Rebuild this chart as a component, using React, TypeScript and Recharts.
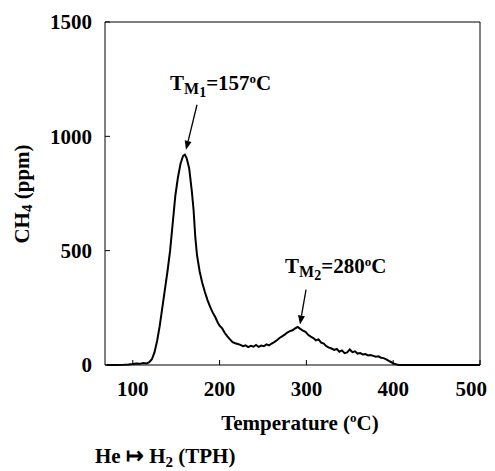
import { LineChart, Line, XAxis, YAxis, ReferenceLine } from 'recharts';

// temperature (°C) and CH4 (ppm)
const temps = [
  70, 80, 90, 95, 100, 104, 108, 112, 116, 119, 122, 125, 128, 131, 134, 137, 140, 143, 146, 149,
  152, 155, 158, 160, 162, 165, 168, 170, 172, 174, 177, 180, 183, 186, 189, 192, 195, 198, 200, 203,
  206, 209, 212, 215, 218, 221, 224, 227, 230, 233, 236, 239, 242, 245, 248, 251, 254, 257, 260, 263,
  266, 269, 272, 275, 278, 281, 284, 287, 290, 293, 296, 299, 302, 305, 308, 311, 314, 317, 320, 323,
  326, 329, 332, 335, 338, 341, 344, 347, 350, 353, 356, 359, 362, 365, 368, 371, 374, 377, 380, 383,
  386, 389, 392, 395, 398, 401, 404, 407, 420, 500,
];
const ch4 = [
  0, 0, 1, 2, 4, 6, 5, 9, 7, 12, 25, 55, 105, 170, 250, 330, 410, 500, 620, 740,
  820, 880, 915, 920, 905, 860, 760, 680, 560, 480, 410, 360, 320, 285, 255, 230, 210, 185, 172, 160,
  140, 125, 112, 100, 95, 92, 88, 82, 86, 78, 84, 80, 88, 79, 85, 82, 90, 86, 94, 100,
  108, 118, 125, 133, 142, 148, 152, 160, 166, 158, 150, 145, 132, 124, 118, 108, 112, 98, 94, 82,
  76, 72, 66, 70, 58, 64, 52, 55, 68, 56, 60, 50, 52, 46, 48, 42, 44, 40, 36, 38,
  32, 30, 25, 18, 12, 6, 2, 0, 0, 0,
];

const xTicks = [100, 200, 300, 400, 500];
const yTicks = [0, 500, 1000, 1500];

// peak annotations: arrow tail and head in data units
const peaks = [
  { sub: '1', temp: '157', from: { x: 174, y: 1138 }, to: { x: 161.3, y: 941 }, dx: -27, dy: -15 },
  { sub: '2', temp: '280', from: { x: 299.6, y: 330 }, to: { x: 292.6, y: 177 }, dx: -21, dy: -17 },
];

const data = temps.map((t, i) => ({ t, v: ch4[i] }));

const FONT = 'Liberation Serif';

function arrowShape(p: any, label: { sub: string; temp: string; dx: number; dy: number }) {
  const { x1, y1, x2, y2 } = p;
  const ang = Math.atan2(y2 - y1, x2 - x1);
  const len = 9;
  const w = 3.5;
  const bx = x2 - len * Math.cos(ang);
  const by = y2 - len * Math.sin(ang);
  const px = -Math.sin(ang) * w;
  const py = Math.cos(ang) * w;
  return (
    <g>
      <line x1={x1} y1={y1} x2={bx} y2={by} stroke="#000" strokeWidth={1.3} />
      <polygon points={`${x2},${y2} ${bx + px},${by + py} ${bx - px},${by - py}`} fill="#000" />
      <text x={x1 + label.dx} y={y1 + label.dy} fontFamily={FONT} fontWeight="bold" fontSize={21} fill="#000">
        T
        <tspan fontSize={16} dy={4}>M</tspan>
        <tspan fontSize={14} dy={3}>{label.sub}</tspan>
        <tspan fontSize={21} dy={-7}>={label.temp}</tspan>
        <tspan fontSize={13} dy={-7}>o</tspan>
        <tspan fontSize={21} dy={7}>C</tspan>
      </text>
    </g>
  );
}

export default function App() {
  return (
    <LineChart
      width={479}
      height={463}
      data={data}
      margin={{ top: 14, right: 7, bottom: 68, left: 37 }}
    >
      <XAxis
        type="number"
        dataKey="t"
        domain={[68, 500]}
        ticks={xTicks}
        allowDataOverflow
        height={38}
        stroke="#000"
        tickSize={-5}
        tickMargin={21}
        tick={{ fill: '#000', fontSize: 21, fontWeight: 700, fontFamily: FONT }}
      />
      <YAxis
        type="number"
        domain={[0, 1500]}
        ticks={yTicks}
        width={60}
        stroke="#000"
        tickSize={-5}
        tickMargin={18}
        tick={{ fill: '#000', fontSize: 21, fontWeight: 700, fontFamily: FONT }}
      />
      <ReferenceLine y={1500} stroke="#000" strokeWidth={1} />
      <ReferenceLine x={500} stroke="#000" strokeWidth={1} />
      {peaks.map((pk, i) => (
        <ReferenceLine
          key={i}
          segment={[pk.from, pk.to]}
          shape={(p: any) => arrowShape(p, pk)}
        />
      ))}
      <Line
        type="linear"
        dataKey="v"
        stroke="#000"
        strokeWidth={2}
        dot={false}
        isAnimationActive={false}
      />
      <text
        x={14}
        y={186}
        transform="rotate(-90 14 186)"
        textAnchor="middle"
        dominantBaseline="central"
        fontFamily={FONT}
        fontWeight="bold"
        fontSize={21}
        fill="#000"
      >
        CH<tspan fontSize={15} dy={5}>4</tspan>
        <tspan fontSize={21} dy={-5}> (ppm)</tspan>
      </text>
      <text x={292} y={422} textAnchor="middle" fontFamily={FONT} fontWeight="bold" fontSize={21} fill="#000">
        Temperature (<tspan fontSize={13} dy={-8}>o</tspan>
        <tspan fontSize={21} dy={8}>C)</tspan>
      </text>
      <text x={87} y={455} fontFamily={FONT} fontWeight="bold" fontSize={21} fill="#000">
        He ↦ H<tspan fontSize={15} dy={4}>2</tspan>
        <tspan fontSize={21} dy={-4}> (TPH)</tspan>
      </text>
    </LineChart>
  );
}
